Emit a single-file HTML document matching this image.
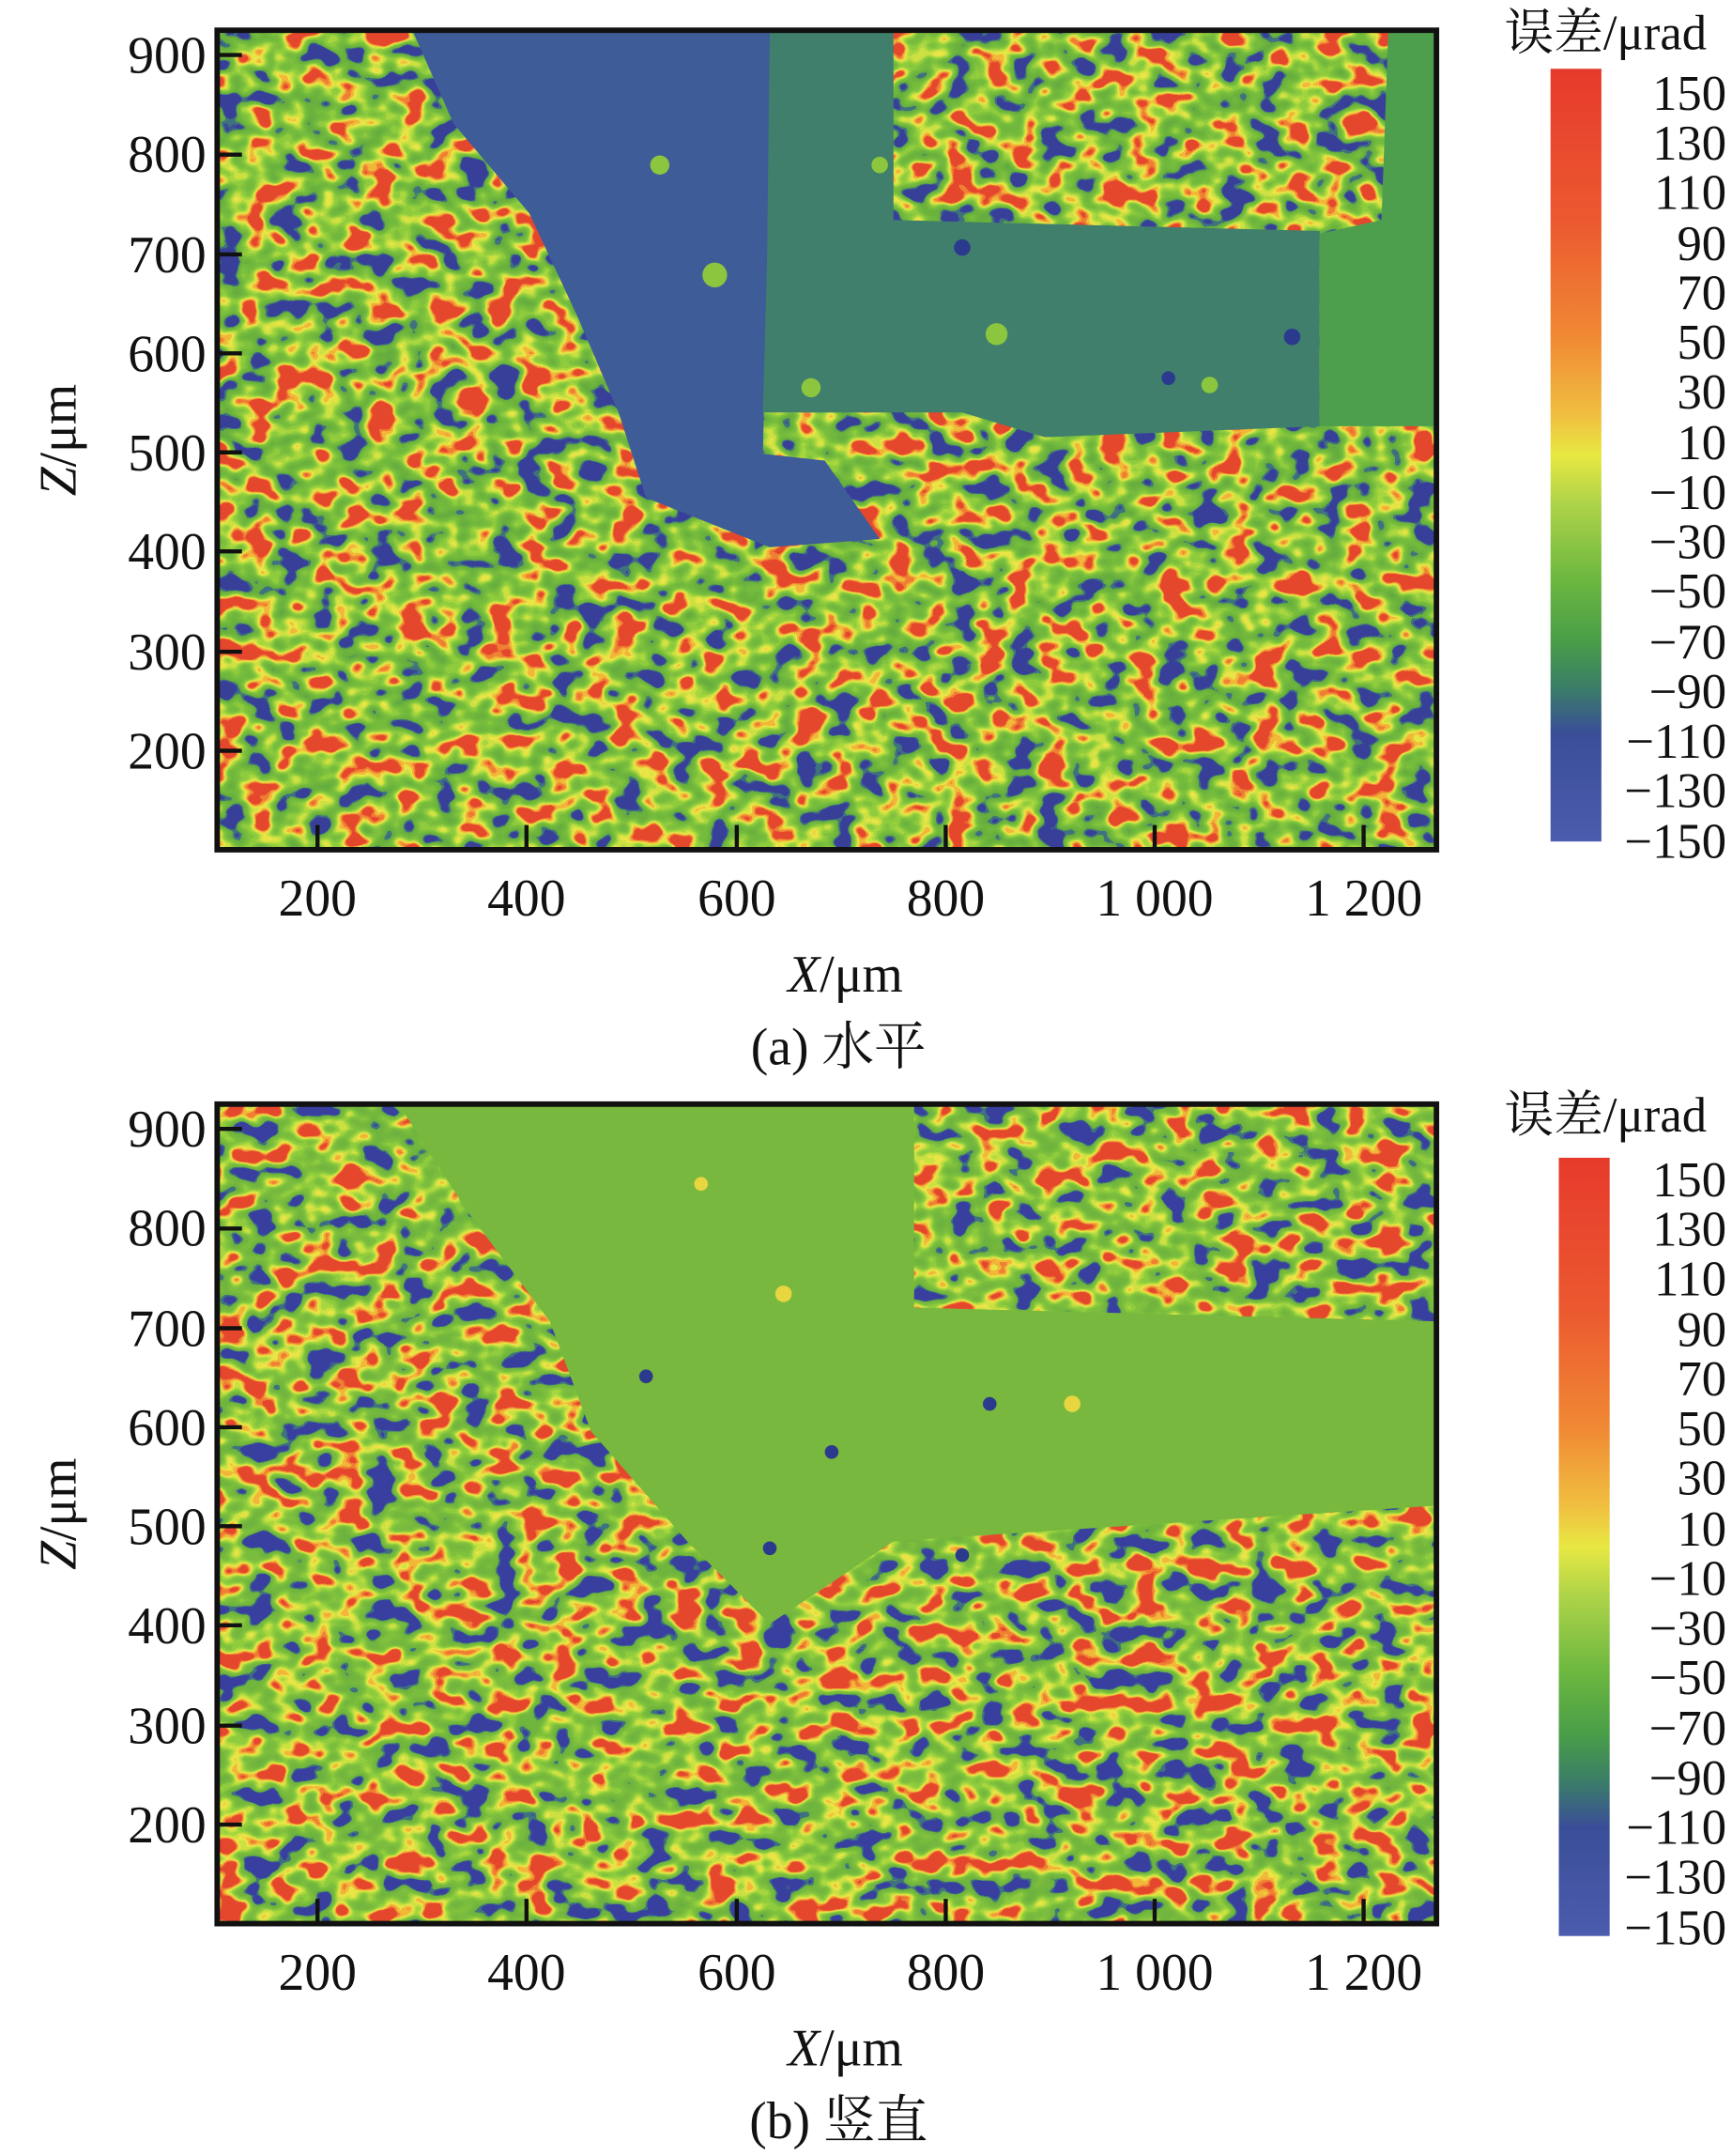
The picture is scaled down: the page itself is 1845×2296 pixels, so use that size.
<!DOCTYPE html>
<html><head><meta charset="utf-8"><style>html,body{margin:0;padding:0;background:#fff}svg{display:block}</style></head>
<body>
<svg width="1845" height="2296" viewBox="0 0 1260 1568" xmlns="http://www.w3.org/2000/svg" font-family="'Liberation Serif','Noto Serif CJK SC',serif">
<defs>
<filter id="nz" x="0" y="0" width="100%" height="100%" filterUnits="objectBoundingBox" color-interpolation-filters="sRGB">
<feTurbulence type="fractalNoise" baseFrequency="0.045 0.06" numOctaves="2" seed="3"/>
<feColorMatrix type="matrix" values="1 0 0 0 0 1 0 0 0 0 1 0 0 0 0 0 0 0 0 1"/>
<feComponentTransfer><feFuncR type="linear" slope="2.8" intercept="-0.9"/><feFuncG type="linear" slope="2.8" intercept="-0.9"/><feFuncB type="linear" slope="2.8" intercept="-0.9"/></feComponentTransfer>
<feComponentTransfer>
<feFuncR type="discrete" tableValues="0.22 0.25 0.4 0.42 0.44 0.46 0.5 0.56 0.66 0.8 0.92 0.95 0.94 0.9"/>
<feFuncG type="discrete" tableValues="0.25 0.45 0.68 0.7 0.72 0.74 0.76 0.8 0.84 0.88 0.9 0.72 0.5 0.28"/>
<feFuncB type="discrete" tableValues="0.6 0.5 0.25 0.24 0.24 0.24 0.24 0.24 0.25 0.26 0.28 0.22 0.2 0.18"/>
</feComponentTransfer>
</filter>
<filter id="nz2" x="0" y="0" width="100%" height="100%" filterUnits="objectBoundingBox" color-interpolation-filters="sRGB">
<feTurbulence type="fractalNoise" baseFrequency="0.045 0.06" numOctaves="2" seed="11"/>
<feColorMatrix type="matrix" values="1 0 0 0 0 1 0 0 0 0 1 0 0 0 0 0 0 0 0 1"/>
<feComponentTransfer><feFuncR type="linear" slope="2.8" intercept="-0.9"/><feFuncG type="linear" slope="2.8" intercept="-0.9"/><feFuncB type="linear" slope="2.8" intercept="-0.9"/></feComponentTransfer>
<feComponentTransfer>
<feFuncR type="discrete" tableValues="0.22 0.25 0.42 0.44 0.46 0.48 0.5 0.56 0.66 0.8 0.92 0.95 0.94 0.9"/>
<feFuncG type="discrete" tableValues="0.25 0.45 0.7 0.71 0.72 0.74 0.76 0.8 0.84 0.88 0.9 0.72 0.5 0.28"/>
<feFuncB type="discrete" tableValues="0.62 0.5 0.25 0.24 0.24 0.24 0.24 0.24 0.25 0.26 0.28 0.22 0.2 0.18"/>
</feComponentTransfer>
</filter>
<linearGradient id="cb" x1="0" y1="0" x2="0" y2="1">
<stop offset="0" stop-color="#e63a2c"/><stop offset="0.2" stop-color="#ec5a30"/><stop offset="0.35" stop-color="#f08a34"/>
<stop offset="0.45" stop-color="#f0c040"/><stop offset="0.5" stop-color="#e8e842"/><stop offset="0.56" stop-color="#b0d448"/>
<stop offset="0.66" stop-color="#6cb840"/><stop offset="0.74" stop-color="#4a9e48"/><stop offset="0.8" stop-color="#3a7e66"/>
<stop offset="0.86" stop-color="#3a4e98"/><stop offset="1" stop-color="#4c5cae"/>
</linearGradient>
</defs>

<!-- Plot (a) -->
<rect x="158" y="22" width="887" height="596" fill="#6cb43e" filter="url(#nz)"/>
<polygon points="300,22 560,22 560,160 600,178 558,195 555,330 600,335 640,392 560,398 470,362 450,300 420,230 385,155 330,90" fill="#3e5c98"/>
<polygon points="560,22 650,22 650,160 960,168 960,310 760,318 700,300 555,300 558,190" fill="#3f7f6c"/>
<polygon points="1010,22 1045,22 1045,310 960,310 960,170 1005,160" fill="#4d9f4e"/>
<g fill="#8cc63e"><circle cx="725" cy="243" r="8"/><circle cx="590" cy="282" r="7"/><circle cx="480" cy="120" r="7"/><circle cx="520" cy="200" r="9"/><circle cx="640" cy="120" r="6"/><circle cx="880" cy="280" r="6"/></g>
<g fill="#2c3a8e"><circle cx="700" cy="180" r="6"/><circle cx="940" cy="245" r="6"/><circle cx="850" cy="275" r="5"/></g>
<rect x="158" y="22" width="887" height="596" fill="none" stroke="#111" stroke-width="4"/>
<g stroke="#111" stroke-width="3">
<line x1="158" y1="40" x2="176" y2="40"/><line x1="158" y1="112.5" x2="176" y2="112.5"/><line x1="158" y1="185" x2="176" y2="185"/><line x1="158" y1="257" x2="176" y2="257"/><line x1="158" y1="329" x2="176" y2="329"/><line x1="158" y1="401" x2="176" y2="401"/><line x1="158" y1="474" x2="176" y2="474"/><line x1="158" y1="546" x2="176" y2="546"/>
<line x1="231" y1="618" x2="231" y2="600"/><line x1="383" y1="618" x2="383" y2="600"/><line x1="536" y1="618" x2="536" y2="600"/><line x1="688" y1="618" x2="688" y2="600"/><line x1="840" y1="618" x2="840" y2="600"/><line x1="992" y1="618" x2="992" y2="600"/>
</g>
<g font-size="38" text-anchor="end" fill="#111">
<text x="150" y="53">900</text><text x="150" y="125">800</text><text x="150" y="198">700</text><text x="150" y="270">600</text><text x="150" y="342">500</text><text x="150" y="414">400</text><text x="150" y="487">300</text><text x="150" y="559">200</text>
</g>
<g font-size="38" text-anchor="middle" fill="#111">
<text x="231" y="666">200</text><text x="383" y="666">400</text><text x="536" y="666">600</text><text x="688" y="666">800</text><text x="840" y="666">1 000</text><text x="992" y="666">1 200</text>
<text x="615" y="721"><tspan font-style="italic">X</tspan>/μm</text>
<text x="610" y="774">(a) 水平</text>
</g>
<text transform="translate(55,320) rotate(-90)" font-size="38" text-anchor="middle" fill="#111"><tspan font-style="italic">Z</tspan>/μm</text>
<rect x="1128" y="50" width="37" height="562" fill="url(#cb)"/>
<text x="1168" y="36" font-size="36" text-anchor="middle" fill="#111">误差/μrad</text>
<g font-size="36" text-anchor="end" fill="#111">
<text x="1256" y="80">150</text><text x="1256" y="116">130</text><text x="1256" y="152">110</text><text x="1256" y="189">90</text><text x="1256" y="225">70</text><text x="1256" y="261">50</text><text x="1256" y="297">30</text><text x="1256" y="334">10</text><text x="1256" y="370">−10</text><text x="1256" y="406">−30</text><text x="1256" y="442">−50</text><text x="1256" y="479">−70</text><text x="1256" y="515">−90</text><text x="1256" y="551">−110</text><text x="1256" y="587">−130</text><text x="1256" y="624">−150</text>
</g>

<!-- Plot (b) -->
<g transform="translate(0,781)">
<rect x="158" y="22" width="887" height="596" fill="#6cb43e" filter="url(#nz2)"/>
<polygon points="290,22 665,22 665,170 1045,180 1045,314 800,330 650,340 560,400 500,340 430,260 400,180 340,100" fill="#78b83e"/>
<g fill="#2c3a8e"><circle cx="605" cy="275" r="5"/><circle cx="720" cy="240" r="5"/><circle cx="470" cy="220" r="5"/><circle cx="560" cy="345" r="5"/><circle cx="700" cy="350" r="5"/></g>
<g fill="#e8d640"><circle cx="570" cy="160" r="6"/><circle cx="510" cy="80" r="5"/><circle cx="780" cy="240" r="6"/></g>
<rect x="158" y="22" width="887" height="596" fill="none" stroke="#111" stroke-width="4"/>
<g stroke="#111" stroke-width="3">
<line x1="158" y1="40" x2="176" y2="40"/><line x1="158" y1="112.5" x2="176" y2="112.5"/><line x1="158" y1="185" x2="176" y2="185"/><line x1="158" y1="257" x2="176" y2="257"/><line x1="158" y1="329" x2="176" y2="329"/><line x1="158" y1="401" x2="176" y2="401"/><line x1="158" y1="474" x2="176" y2="474"/><line x1="158" y1="546" x2="176" y2="546"/>
<line x1="231" y1="618" x2="231" y2="600"/><line x1="383" y1="618" x2="383" y2="600"/><line x1="536" y1="618" x2="536" y2="600"/><line x1="688" y1="618" x2="688" y2="600"/><line x1="840" y1="618" x2="840" y2="600"/><line x1="992" y1="618" x2="992" y2="600"/>
</g>
<g font-size="38" text-anchor="end" fill="#111">
<text x="150" y="53">900</text><text x="150" y="125">800</text><text x="150" y="198">700</text><text x="150" y="270">600</text><text x="150" y="342">500</text><text x="150" y="414">400</text><text x="150" y="487">300</text><text x="150" y="559">200</text>
</g>
<g font-size="38" text-anchor="middle" fill="#111">
<text x="231" y="666">200</text><text x="383" y="666">400</text><text x="536" y="666">600</text><text x="688" y="666">800</text><text x="840" y="666">1 000</text><text x="992" y="666">1 200</text>
<text x="615" y="721"><tspan font-style="italic">X</tspan>/μm</text>
<text x="610" y="774">(b) 竖直</text>
</g>
<text transform="translate(55,320) rotate(-90)" font-size="38" text-anchor="middle" fill="#111"><tspan font-style="italic">Z</tspan>/μm</text>
<rect x="1134" y="61" width="37" height="566" fill="url(#cb)"/>
<text x="1168" y="42" font-size="36" text-anchor="middle" fill="#111">误差/μrad</text>
<g font-size="36" text-anchor="end" fill="#111" transform="translate(0,9)">
<text x="1256" y="80">150</text><text x="1256" y="116">130</text><text x="1256" y="152">110</text><text x="1256" y="189">90</text><text x="1256" y="225">70</text><text x="1256" y="261">50</text><text x="1256" y="297">30</text><text x="1256" y="334">10</text><text x="1256" y="370">−10</text><text x="1256" y="406">−30</text><text x="1256" y="442">−50</text><text x="1256" y="479">−70</text><text x="1256" y="515">−90</text><text x="1256" y="551">−110</text><text x="1256" y="587">−130</text><text x="1256" y="624">−150</text>
</g>
</g>
</svg>
</body></html>
